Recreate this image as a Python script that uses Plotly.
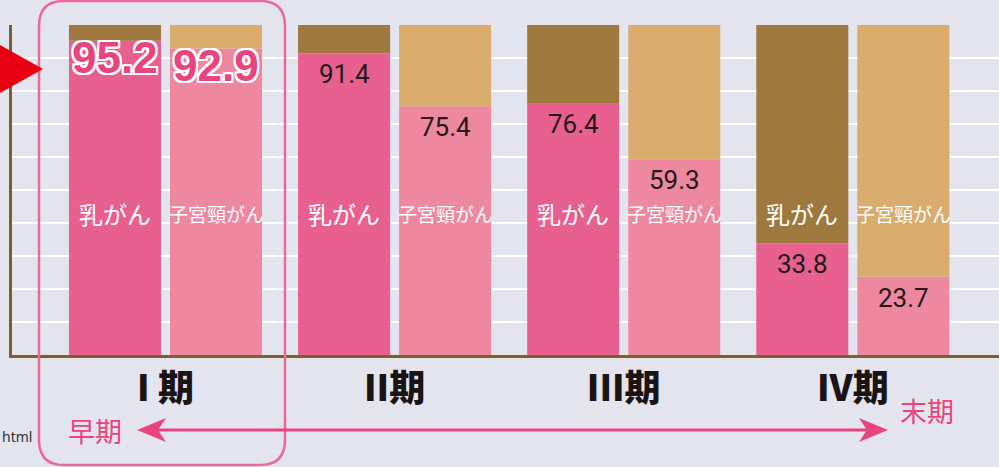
import plotly.graph_objects as go

# ---- data ----
categories = ["I 期", "II期", "III期", "IV期"]
breast_survival = [95.2, 91.4, 76.4, 33.8]
cervix_survival = [92.9, 75.4, 59.3, 23.7]
series_names = ["乳がん", "子宮頸がん"]
total = 100

# ---- style ----
C_BREAST = "#E8608F"
C_BREAST_REST = "#9E783E"
C_CERVIX = "#EE87A0"
C_CERVIX_REST = "#D9AC6E"
C_AXIS = "#7C5F2E"
C_ACCENT = "#E8457F"
BG = "#E3E4EE"
JP = "Noto Sans CJK JP"

W, H = 999, 467
ML, MR, MT, MB = 12, 0, 25, 112
BARGAP = 0.118
BARGROUPGAP = 0.089
XRANGE = [-0.670, 3.638]

fig = go.Figure()
for vals, cs, cr, grp in [
    (breast_survival, C_BREAST, C_BREAST_REST, "b"),
    (cervix_survival, C_CERVIX, C_CERVIX_REST, "c"),
]:
    fig.add_trace(go.Bar(x=categories, y=vals, offsetgroup=grp,
                         marker=dict(color=cs, line=dict(width=0)),
                         hoverinfo="skip"))
    fig.add_trace(go.Bar(x=categories, y=[total - v for v in vals], base=vals,
                         offsetgroup=grp,
                         marker=dict(color=cr, line=dict(width=0)),
                         hoverinfo="skip"))

off = (1 - BARGAP) / 4
annotations = []
outline = ", ".join(f"{dx}px {dy}px 0 #fff" for dx in (-2, 0, 2) for dy in (-2, 0, 2) if dx or dy)
for side, vals, name in [(-1, breast_survival, series_names[0]),
                         (1, cervix_survival, series_names[1])]:
    for i, v in enumerate(vals):
        xpos = i + side * off
        if i == 0:
            annotations.append(dict(
                x=xpos, y=v, xref="x", yref="y", text=f"{v:.1f}", showarrow=False,
                yanchor="middle", yshift=-17,
                font=dict(family="Liberation Sans", size=44, color=C_ACCENT,
                          weight="bold", shadow=outline)))
        else:
            annotations.append(dict(
                x=xpos, y=v, xref="x", yref="y", text=f"{v:.1f}", showarrow=False,
                yanchor="middle", yshift=-21,
                font=dict(family="Roboto", size=26, color="#231815")))
        annotations.append(dict(
            x=xpos, y=43, xref="x", yref="y", text=name, showarrow=False,
            yanchor="middle",
            font=dict(family=JP, size=24 if side < 0 else 19, color="white")))

pw = W - ML - MR
ph = H - MT - MB


def px(x):
    return (x - ML) / pw


def py(y):
    return (H - MB - y) / ph


def pt(x, y):
    return f"{px(x):.5f},{py(y):.5f}"


annotations += [
    dict(x=px(95), y=py(430), xref="paper", yref="paper", text="早期", showarrow=False,
         xanchor="center", yanchor="middle",
         font=dict(family=JP, size=27, color=C_ACCENT)),
    dict(x=px(927), y=py(410), xref="paper", yref="paper", text="末期", showarrow=False,
         xanchor="center", yanchor="middle",
         font=dict(family=JP, size=27, color=C_ACCENT)),
    dict(x=px(0), y=py(436), xref="paper", yref="paper", text="html", showarrow=False,
         xanchor="left", yanchor="middle",
         font=dict(family="Noto Sans", size=14, color="#333333")),
]

# rounded rectangle around stage I
x0, x1, y0, y1, r = 39, 285, 1, 465, 25
rect = (f"M {pt(x0 + r, y0)} L {pt(x1 - r, y0)} Q {pt(x1, y0)} {pt(x1, y0 + r)} "
        f"L {pt(x1, y1 - r)} Q {pt(x1, y1)} {pt(x1 - r, y1)} "
        f"L {pt(x0 + r, y1)} Q {pt(x0, y1)} {pt(x0, y1 - r)} "
        f"L {pt(x0, y0 + r)} Q {pt(x0, y0)} {pt(x0 + r, y0)} Z")

shapes = [
    dict(type="path", xref="paper", yref="paper", path=rect,
         line=dict(color="#EA6A95", width=2.5)),
    dict(type="path", xref="paper", yref="paper",
         path=f"M {pt(-20, 34)} L {pt(43, 69)} L {pt(-20, 104)} Z",
         fillcolor="#E60012", line=dict(width=0)),
    dict(type="line", xref="paper", yref="paper", x0=px(150), x1=px(875),
         y0=py(430), y1=py(430), line=dict(color=C_ACCENT, width=3)),
    dict(type="path", xref="paper", yref="paper",
         path=f"M {pt(137, 430)} L {pt(166, 418)} L {pt(158, 430)} L {pt(166, 442)} Z",
         fillcolor=C_ACCENT, line=dict(width=0)),
    dict(type="path", xref="paper", yref="paper",
         path=f"M {pt(888, 430)} L {pt(859, 418)} L {pt(867, 430)} L {pt(859, 442)} Z",
         fillcolor=C_ACCENT, line=dict(width=0)),
]

fig.update_layout(
    width=W, height=H, margin=dict(l=ML, r=MR, t=MT, b=MB),
    paper_bgcolor=BG, plot_bgcolor=BG,
    barmode="group", bargap=BARGAP, bargroupgap=BARGROUPGAP,
    showlegend=False,
    annotations=annotations, shapes=shapes,
    xaxis=dict(type="category", range=XRANGE, showgrid=False, showline=True,
               linecolor=C_AXIS, linewidth=3, ticks="", ticklabelstandoff=0,
               tickfont=dict(family=JP, size=36, color="#1A1414", weight=900)),
    yaxis=dict(range=[0, total], dtick=10, showgrid=True, gridcolor="white",
               gridwidth=2, showline=True, linecolor=C_AXIS, linewidth=3,
               showticklabels=False, ticks="", zeroline=False),
)

fig.write_html(
    "out.html",
    config={"displayModeBar": False},
    post_script="document.body.style.margin='0';document.body.style.overflow='hidden';"
                "document.body.style.background='" + BG + "';",
)
